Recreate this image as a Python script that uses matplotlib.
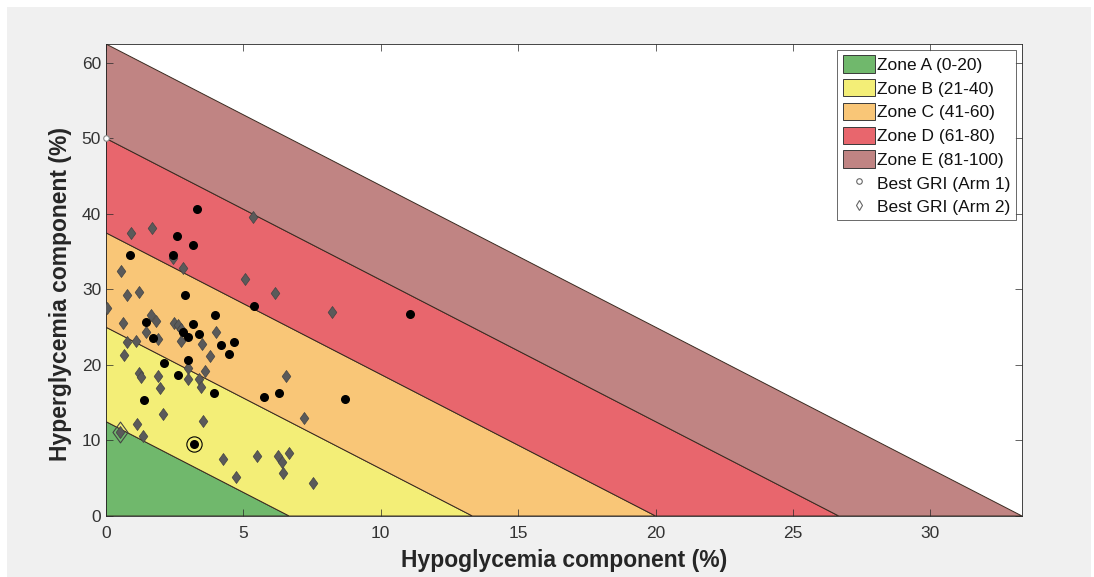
import matplotlib
matplotlib.use("Agg")
import matplotlib.pyplot as plt
import numpy as np
from matplotlib.patches import Polygon, Patch, Rectangle
from matplotlib.lines import Line2D
from matplotlib.path import Path

# Zone definitions (GRI = 3*hypo + 1.6*hyper)
zone_labels = ["Zone A (0-20)", "Zone B (21-40)", "Zone C (41-60)", "Zone D (61-80)", "Zone E (81-100)"]
zone_bounds = [0, 20, 40, 60, 80, 100]
zone_colors = ["#70b86c", "#f3ee77", "#f9c677", "#e8666d", "#c08483"]

# Arm 1 (black circles): hypo, hyper
arm1_hypo = [3.31, 2.58, 3.17, 0.87, 2.43, 2.88, 5.39, 11.07, 3.97, 1.46, 3.17, 1.71, 2.82,
             3.00, 3.39, 4.20, 4.67, 4.47, 3.00, 2.12, 2.63, 3.92, 5.76, 6.29, 8.69, 1.38, 3.20]
arm1_hyper = [40.7, 37.1, 35.9, 34.6, 34.5, 29.3, 27.8, 26.75, 26.6, 25.7, 25.4, 23.6, 24.3,
              23.7, 24.1, 22.6, 23.1, 21.4, 20.7, 20.2, 18.7, 16.3, 15.8, 16.3, 15.5, 15.4, 9.6]

# Arm 2 (gray diamonds): hypo, hyper
arm2_hypo = [0.92, 1.66, 2.45, 2.79, 0.53, 0.78, 1.21, 0.02, 1.64, 1.83, 0.63, 2.46, 2.63, 2.73,
             1.44, 1.90, 2.72, 4.00, 3.51, 0.78, 1.08, 0.66, 3.79, 1.21, 1.26, 1.88, 3.00, 3.60,
             2.97, 3.39, 3.45, 1.98, 6.15, 6.56, 7.21, 3.52, 4.27, 5.49, 6.25, 6.67, 6.41, 6.45,
             4.73, 7.54, 2.06, 1.12, 1.36, 0.51, 5.36, 5.06, 8.21]
arm2_hyper = [37.5, 38.1, 34.2, 32.9, 32.4, 29.2, 29.6, 27.5, 26.6, 25.8, 25.6, 25.6, 25.3, 24.7,
              24.4, 23.4, 23.2, 24.3, 22.8, 23.1, 23.2, 21.3, 21.2, 18.9, 18.4, 18.5, 19.6, 19.2,
              18.1, 18.1, 17.1, 16.9, 29.5, 18.5, 13.0, 12.6, 7.6, 7.9, 8.0, 8.4, 7.2, 5.7,
              5.2, 4.4, 13.5, 12.2, 10.6, 11.1, 39.6, 31.4, 27.0]

best_arm1 = (3.20, 9.6)
best_arm2 = (0.51, 11.1)
marker_dummy = (0.0, 50.0)

x_ticks = [0, 5, 10, 15, 20, 25, 30]
y_ticks = [0, 10, 20, 30, 40, 50, 60]

plt.rcParams['font.family'] = ['Liberation Sans', 'DejaVu Sans']

diamond = Path([(0, 1), (0.72, 0), (0, -1), (-0.72, 0), (0, 1)],
               [Path.MOVETO, Path.LINETO, Path.LINETO, Path.LINETO, Path.CLOSEPOLY])

fig = plt.figure(figsize=(10.94, 5.77), dpi=100, facecolor="white")
fig.patches.append(Rectangle((7 / 1094, 0), 1 - 10 / 1094, 1 - 7 / 577, transform=fig.transFigure,
                             facecolor="#f0f0f0", edgecolor="none", zorder=-10))
ax = fig.add_axes([106 / 1094, 1 - 516 / 577, (1022 - 106) / 1094, (516 - 44) / 577])
ax.set_facecolor("white")

handles = []
for i in range(5):
    lo, hi = zone_bounds[i], zone_bounds[i + 1]
    if lo == 0:
        verts = [(0, 0), (hi / 3, 0), (0, hi / 1.6)]
    else:
        verts = [(lo / 3, 0), (hi / 3, 0), (0, hi / 1.6), (0, lo / 1.6)]
    poly = Polygon(verts, closed=True, facecolor=zone_colors[i], edgecolor="#3a2a20", linewidth=0.7, zorder=1)
    ax.add_patch(poly)
    handles.append(Patch(facecolor=zone_colors[i], edgecolor="#3a3a3a", linewidth=0.7, label=zone_labels[i]))

ax.scatter(arm2_hypo, arm2_hyper, marker=diamond, s=75, c="#5a5a5a", edgecolors="#444444",
           linewidths=0.5, zorder=3)
ax.scatter(arm1_hypo, arm1_hyper, marker="o", s=30, c="black", edgecolors="black", zorder=4)

ax.plot([best_arm1[0]], [best_arm1[1]], marker="o", ms=11, mfc="none", mec="black", mew=0.8, zorder=5)
ax.plot([best_arm2[0]], [best_arm2[1]], marker=diamond, ms=15, mfc="none", mec="#444444", mew=0.8, zorder=5)
ax.plot([marker_dummy[0]], [marker_dummy[1]], marker="o", ms=4, mfc="white", mec="#888888", mew=0.8,
        zorder=6, clip_on=False)

handles.append(Line2D([], [], linestyle="none", marker="o", ms=4, mfc="none", mec="#666666", mew=0.8,
                      label="Best GRI (Arm 1)"))
handles.append(Line2D([], [], linestyle="none", marker="d", ms=5, mfc="none", mec="#666666", mew=0.8,
                      label="Best GRI (Arm 2)"))

ax.set_xlim(0, 100 / 3)
ax.set_ylim(0, 62.5)
ax.set_xticks(x_ticks)
ax.set_yticks(y_ticks)
ax.tick_params(direction="in", top=True, right=True, length=5, width=0.5, colors="#262626",
               labelsize=12.5)
ax.tick_params(axis="x", pad=7)
ax.tick_params(labelcolor="#333333")
for sp in ax.spines.values():
    sp.set_linewidth(0.6)
    sp.set_color("#262626")

ax.set_xlabel("Hypoglycemia component (%)", fontsize=16.5, fontweight="bold", color="#262626", labelpad=6)
ax.set_ylabel("Hyperglycemia component (%)", fontsize=16.5, fontweight="bold", color="#262626")
ax.yaxis.set_label_coords(-0.037, 0.47)

leg = ax.legend(handles=handles, loc="upper right", fontsize=12.5, frameon=True, fancybox=False,
                edgecolor="#262626", handlelength=1.85, handleheight=1.15, handletextpad=0.15,
                labelspacing=0.36, borderpad=0.3, borderaxespad=0.35)
leg.get_frame().set_linewidth(0.6)
for t in leg.get_texts():
    t.set_color("#111111")

fig.savefig("out.png", dpi=100, facecolor=fig.get_facecolor())
